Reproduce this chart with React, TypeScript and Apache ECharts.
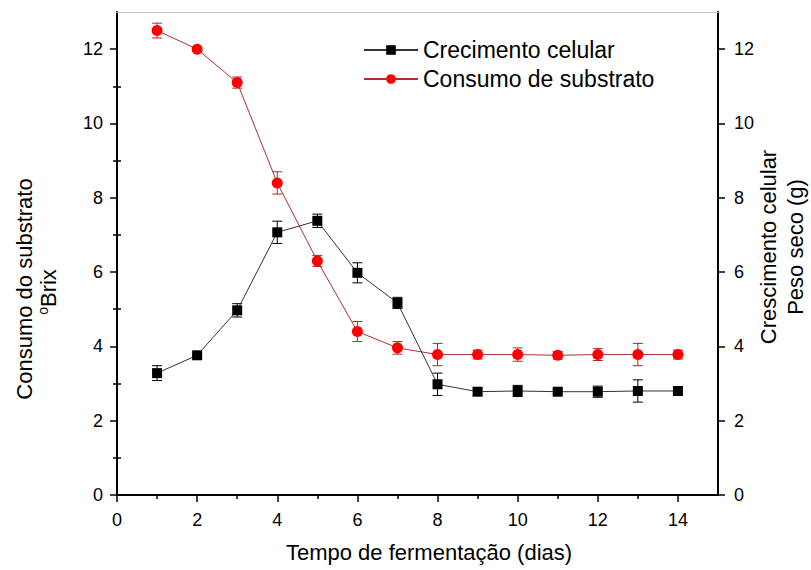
import React, { useEffect, useRef } from "react";
import * as echarts from "echarts";

const days = [1, 2, 3, 4, 5, 6, 7, 8, 9, 10, 11, 12, 13, 14];
const substrato = [12.5, 12.0, 11.1, 8.4, 6.3, 4.4, 3.96, 3.78, 3.78, 3.78, 3.76, 3.78, 3.78, 3.78];
const substratoErr = [0.2, 0.05, 0.15, 0.3, 0.15, 0.27, 0.17, 0.3, 0.12, 0.18, 0.1, 0.16, 0.3, 0.12];
const crecimento = [3.28, 3.76, 4.97, 7.07, 7.38, 5.98, 5.17, 2.98, 2.78, 2.8, 2.78, 2.78, 2.8, 2.8];
const crecimentoErr = [0.2, 0.03, 0.18, 0.3, 0.18, 0.27, 0.15, 0.3, 0.1, 0.15, 0.06, 0.15, 0.3, 0.1];
const xMajor = [0, 2, 4, 6, 8, 10, 12, 14];
const xMinor = [1, 3, 5, 7, 9, 11, 13];
const yMajor = [0, 2, 4, 6, 8, 10, 12];
const yMinor = [1, 3, 5, 7, 9, 11];

const FONT = '"Liberation Sans", Arial, sans-serif';

function errorBarSeries(vals: number[], errs: number[], color: string, yAxisIndex: number, name: string) {
  return {
    type: "custom",
    name,
    xAxisIndex: 0,
    yAxisIndex,
    z: 2,
    silent: true,
    data: days.map((d, i) => [d, vals[i] - errs[i], vals[i] + errs[i]]),
    encode: { x: 0, y: [1, 2] },
    renderItem: (_p: any, api: any) => {
      const x = api.value(0);
      const lo = api.coord([x, api.value(1)]);
      const hi = api.coord([x, api.value(2)]);
      const w = 5;
      const st = { stroke: color, lineWidth: 1 };
      return {
        type: "group",
        children: [
          { type: "line", shape: { x1: lo[0], y1: lo[1], x2: hi[0], y2: hi[1] }, style: st },
          { type: "line", shape: { x1: lo[0] - w, y1: lo[1], x2: lo[0] + w, y2: lo[1] }, style: st },
          { type: "line", shape: { x1: hi[0] - w, y1: hi[1], x2: hi[0] + w, y2: hi[1] }, style: st },
        ],
      };
    },
  };
}

export default function App() {
  const ref = useRef<HTMLDivElement>(null);
  useEffect(() => {
    if (!ref.current) return;
    const chart = echarts.init(ref.current, null, { renderer: "svg" });
    const axisLine = { show: true, onZero: false, lineStyle: { color: "#000", width: 2 } };
    const labelStyle = { color: "#000", fontSize: 18, fontFamily: FONT };
    const baseY = {
      type: "value",
      min: 0,
      max: 13,
      interval: 1,
      splitLine: { show: false },
    };
    const titleStyle = (text: string) => ({
      text,
      fontSize: 22,
      fontFamily: FONT,
      fill: "#000",
      align: "center",
      verticalAlign: "middle",
    });
    chart.setOption({
      animation: false,
      backgroundColor: "#fff",
      grid: { left: 117, right: 93, top: 12, bottom: 75, containLabel: false },
      legend: {
        orient: "vertical",
        left: 358,
        top: 33,
        itemWidth: 54,
        itemHeight: 12,
        itemGap: 5,
        data: ["Crecimento celular", "Consumo de substrato"],
        textStyle: { color: "#000", fontSize: 23, fontFamily: FONT, lineHeight: 24 },
      },
      xAxis: [
        {
          type: "value",
          position: "bottom",
          min: 0,
          max: 15,
          interval: 1,
          axisLine,
          axisTick: { show: true, customValues: xMajor, length: 7, lineStyle: { color: "#000", width: 1.5 } },
          axisLabel: { show: true, customValues: xMajor, margin: 16, ...labelStyle },
          splitLine: { show: false },
        },
        {
          type: "value",
          position: "bottom",
          min: 0,
          max: 15,
          interval: 1,
          axisLine: { show: false },
          axisTick: { show: true, customValues: xMinor, length: 4, lineStyle: { color: "#000", width: 1.5 } },
          axisLabel: { show: false },
          splitLine: { show: false },
        },
        {
          type: "value",
          position: "top",
          min: 0,
          max: 15,
          axisLine: { show: true, onZero: false, lineStyle: { color: "#c8c8c8", width: 1 } },
          axisTick: { show: false },
          axisLabel: { show: false },
          splitLine: { show: false },
        },
      ],
      yAxis: [
        {
          ...baseY,
          position: "left",
          axisLine,
          axisTick: { show: true, customValues: yMajor, length: 7, lineStyle: { color: "#000", width: 1.5 } },
          axisLabel: { show: true, customValues: yMajor, margin: 14, ...labelStyle },
        },
        {
          ...baseY,
          position: "left",
          axisLine: { show: false },
          axisTick: { show: true, customValues: yMinor, length: 4, lineStyle: { color: "#000", width: 1.5 } },
          axisLabel: { show: false },
        },
        {
          ...baseY,
          position: "right",
          axisLine,
          axisTick: { show: true, customValues: yMajor, length: 7, lineStyle: { color: "#000", width: 1.5 } },
          axisLabel: { show: true, customValues: yMajor, margin: 16, ...labelStyle },
        },
        {
          ...baseY,
          position: "right",
          axisLine: { show: false },
          axisTick: { show: true, customValues: yMinor, length: 4, lineStyle: { color: "#000", width: 1.5 } },
          axisLabel: { show: false },
        },
      ],
      series: [
        errorBarSeries(substrato, substratoErr, "#b02828", 0, "errSub"),
        errorBarSeries(crecimento, crecimentoErr, "#000", 2, "errCre"),
        {
          type: "line",
          name: "Consumo de substrato",
          xAxisIndex: 0,
          yAxisIndex: 0,
          z: 3,
          data: days.map((d, i) => [d, substrato[i]]),
          symbol: "circle",
          symbolSize: 11,
          itemStyle: { color: "#ff0000" },
          lineStyle: { color: "#a83232", width: 1 },
        },
        {
          type: "line",
          name: "Crecimento celular",
          xAxisIndex: 0,
          yAxisIndex: 2,
          z: 3,
          data: days.map((d, i) => [d, crecimento[i]]),
          symbol: "rect",
          symbolSize: 10,
          itemStyle: { color: "#000" },
          lineStyle: { color: "#333", width: 1 },
        },
      ],
      graphic: [
        { type: "text", x: 429, y: 552, style: titleStyle("Tempo de fermentação (dias)") },
        { type: "text", x: 24, y: 289, rotation: Math.PI / 2, style: titleStyle("Consumo do substrato") },
        {
          type: "text",
          x: 48,
          y: 292,
          rotation: Math.PI / 2,
          style: {
            text: "{s|o}{b|Brix}",
            fontFamily: FONT,
            fill: "#000",
            align: "center",
            verticalAlign: "middle",
            rich: {
              s: { fontSize: 14, fontFamily: FONT, fill: "#000", verticalAlign: "top", lineHeight: 24 },
              b: { fontSize: 22, fontFamily: FONT, fill: "#000", lineHeight: 24 },
            },
          },
        },
        { type: "text", x: 768, y: 247, rotation: Math.PI / 2, style: titleStyle("Crescimento celular") },
        { type: "text", x: 795, y: 247, rotation: Math.PI / 2, style: titleStyle("Peso seco (g)") },
      ],
    });
    return () => chart.dispose();
  }, []);
  return <div ref={ref} style={{ position: "fixed", left: 0, top: 0, width: 811, height: 570 }} />;
}
